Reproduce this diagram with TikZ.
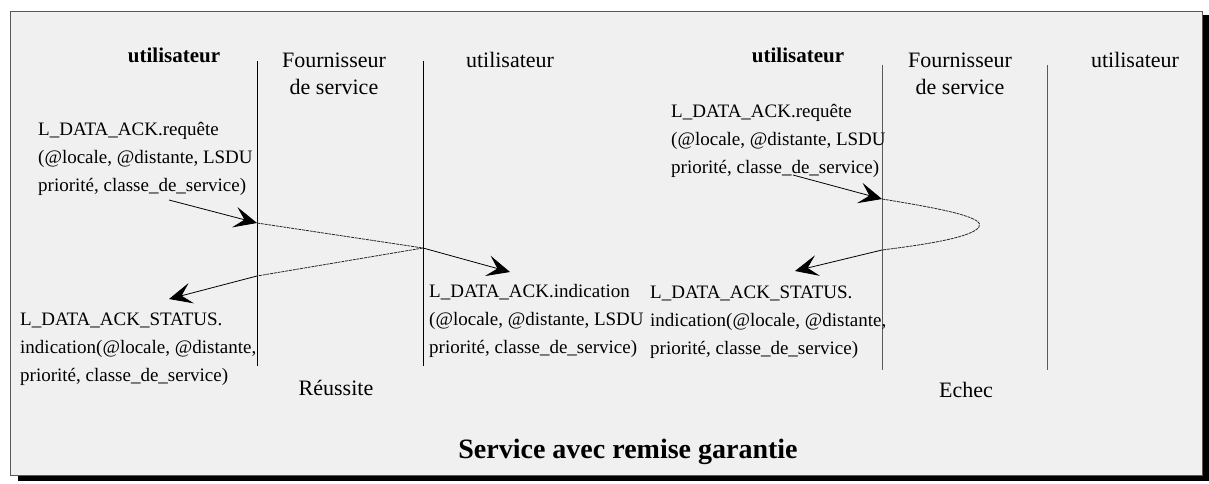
\documentclass[tikz,border=0pt]{standalone}
\usepackage{fontspec}
\setmainfont{Liberation Serif}
\usetikzlibrary{arrows.meta}

\begin{document}
\begin{tikzpicture}[x=1pt,y=-1pt,
  lbl/.style={anchor=base west, inner sep=0pt, align=left, font=\rmfamily\fontsize{19}{28}\selectfont},
  head/.style={anchor=base, inner sep=0pt, align=center, font=\rmfamily\fontsize{22}{27}\selectfont},
  bhead/.style={anchor=base, inner sep=0pt, font=\rmfamily\bfseries\fontsize{21}{26}\selectfont},
  life/.style={line width=1pt, black},
  lifeg/.style={line width=1pt, black!65},
  msg/.style={line width=0.8pt, -{Stealth[length=23pt,width=21pt,inset=10pt]}},
  relay/.style={line width=0.8pt, dash pattern=on 3pt off 0.8pt, black!85},
]
\useasboundingbox (0,0) rectangle (1209,483);

% frame with drop shadow
\fill[black] (18,475) rectangle (1209,481);
\fill[black] (1202,15) rectangle (1209,481);
\draw[fill=gray!12, draw=gray!70!black, line width=1pt] (10,11) rectangle (1202,475);

% lifelines
\coordinate (a1) at (257,61);  \coordinate (b1) at (257,366);
\coordinate (a2) at (423,61);  \coordinate (b2) at (423,366);
\coordinate (a3) at (882,65);  \coordinate (b3) at (882,370);
\coordinate (a4) at (1047,65); \coordinate (b4) at (1047,370);
\draw[life] (a1) -- (b1);
\draw[life] (a2) -- (b2);
\draw[lifeg] (a3) -- (b3);
\draw[lifeg] (a4) -- (b4);

% column headers (multi-line nodes sit on their last baseline)
\node[bhead] (u1) at (174,62) {utilisateur};
\node[head]  (f1) at (334,94) {Fournisseur\\de service};
\node[head]  (u2) at (510,67) {utilisateur};
\node[bhead] (u3) at (798,62) {utilisateur};
\node[head]  (f2) at (960,94) {Fournisseur\\de service};
\node[head]  (u4) at (1135,67) {utilisateur};

% primitives, successful exchange
\node[lbl] (req1) at (38,191) {L\_DATA\_ACK.requête\\(@locale, @distante, LSDU\\priorité, classe\_de\_service)};
\node[lbl] (sta1) at (20,381) {L\_DATA\_ACK\_STATUS.\\indication(@locale, @distante,\\priorité, classe\_de\_service)};
\node[lbl] (ind1) at (429,353) {L\_DATA\_ACK.indication\\(@locale, @distante, LSDU\\priorité, classe\_de\_service)};

% primitives, failed exchange
\node[lbl] (req2) at (671,173) {L\_DATA\_ACK.requête\\(@locale, @distante, LSDU\\priorité, classe\_de\_service)};
\node[lbl] (sta2) at (650,354) {L\_DATA\_ACK\_STATUS.\\indication(@locale, @distante,\\priorité, classe\_de\_service)};

\node[head] (ok) at (336,395) {Réussite};
\node[head] (ko) at (966,397) {Echec};
\node[anchor=base, inner sep=0pt, font=\rmfamily\bfseries\fontsize{28}{34}\selectfont] (ttl) at (628,458) {Service avec remise garantie};

% successful exchange
\coordinate (s1) at (169,200); \coordinate (p1) at (257,223);
\coordinate (q1) at (423,248); \coordinate (e1) at (510,272);
\coordinate (p2) at (257,276); \coordinate (e2) at (169,299);
\draw[msg] (s1) -- (p1);
\draw[relay] (p1) -- (q1);
\draw[msg] (q1) -- (e1);
\draw[relay] (q1) -- (p2);
\draw[msg] (p2) -- (e2);

% failed exchange
\coordinate (s3) at (793,175); \coordinate (p3) at (882,199);
\coordinate (r3) at (882,250); \coordinate (e3) at (795,271);
\draw[msg] (s3) -- (p3);
\draw[relay] (p3) .. controls (950,210) and (985,218) .. (979,227)
             .. controls (972,237) and (930,244) .. (r3);
\draw[msg] (r3) -- (e3);
\end{tikzpicture}
\end{document}
